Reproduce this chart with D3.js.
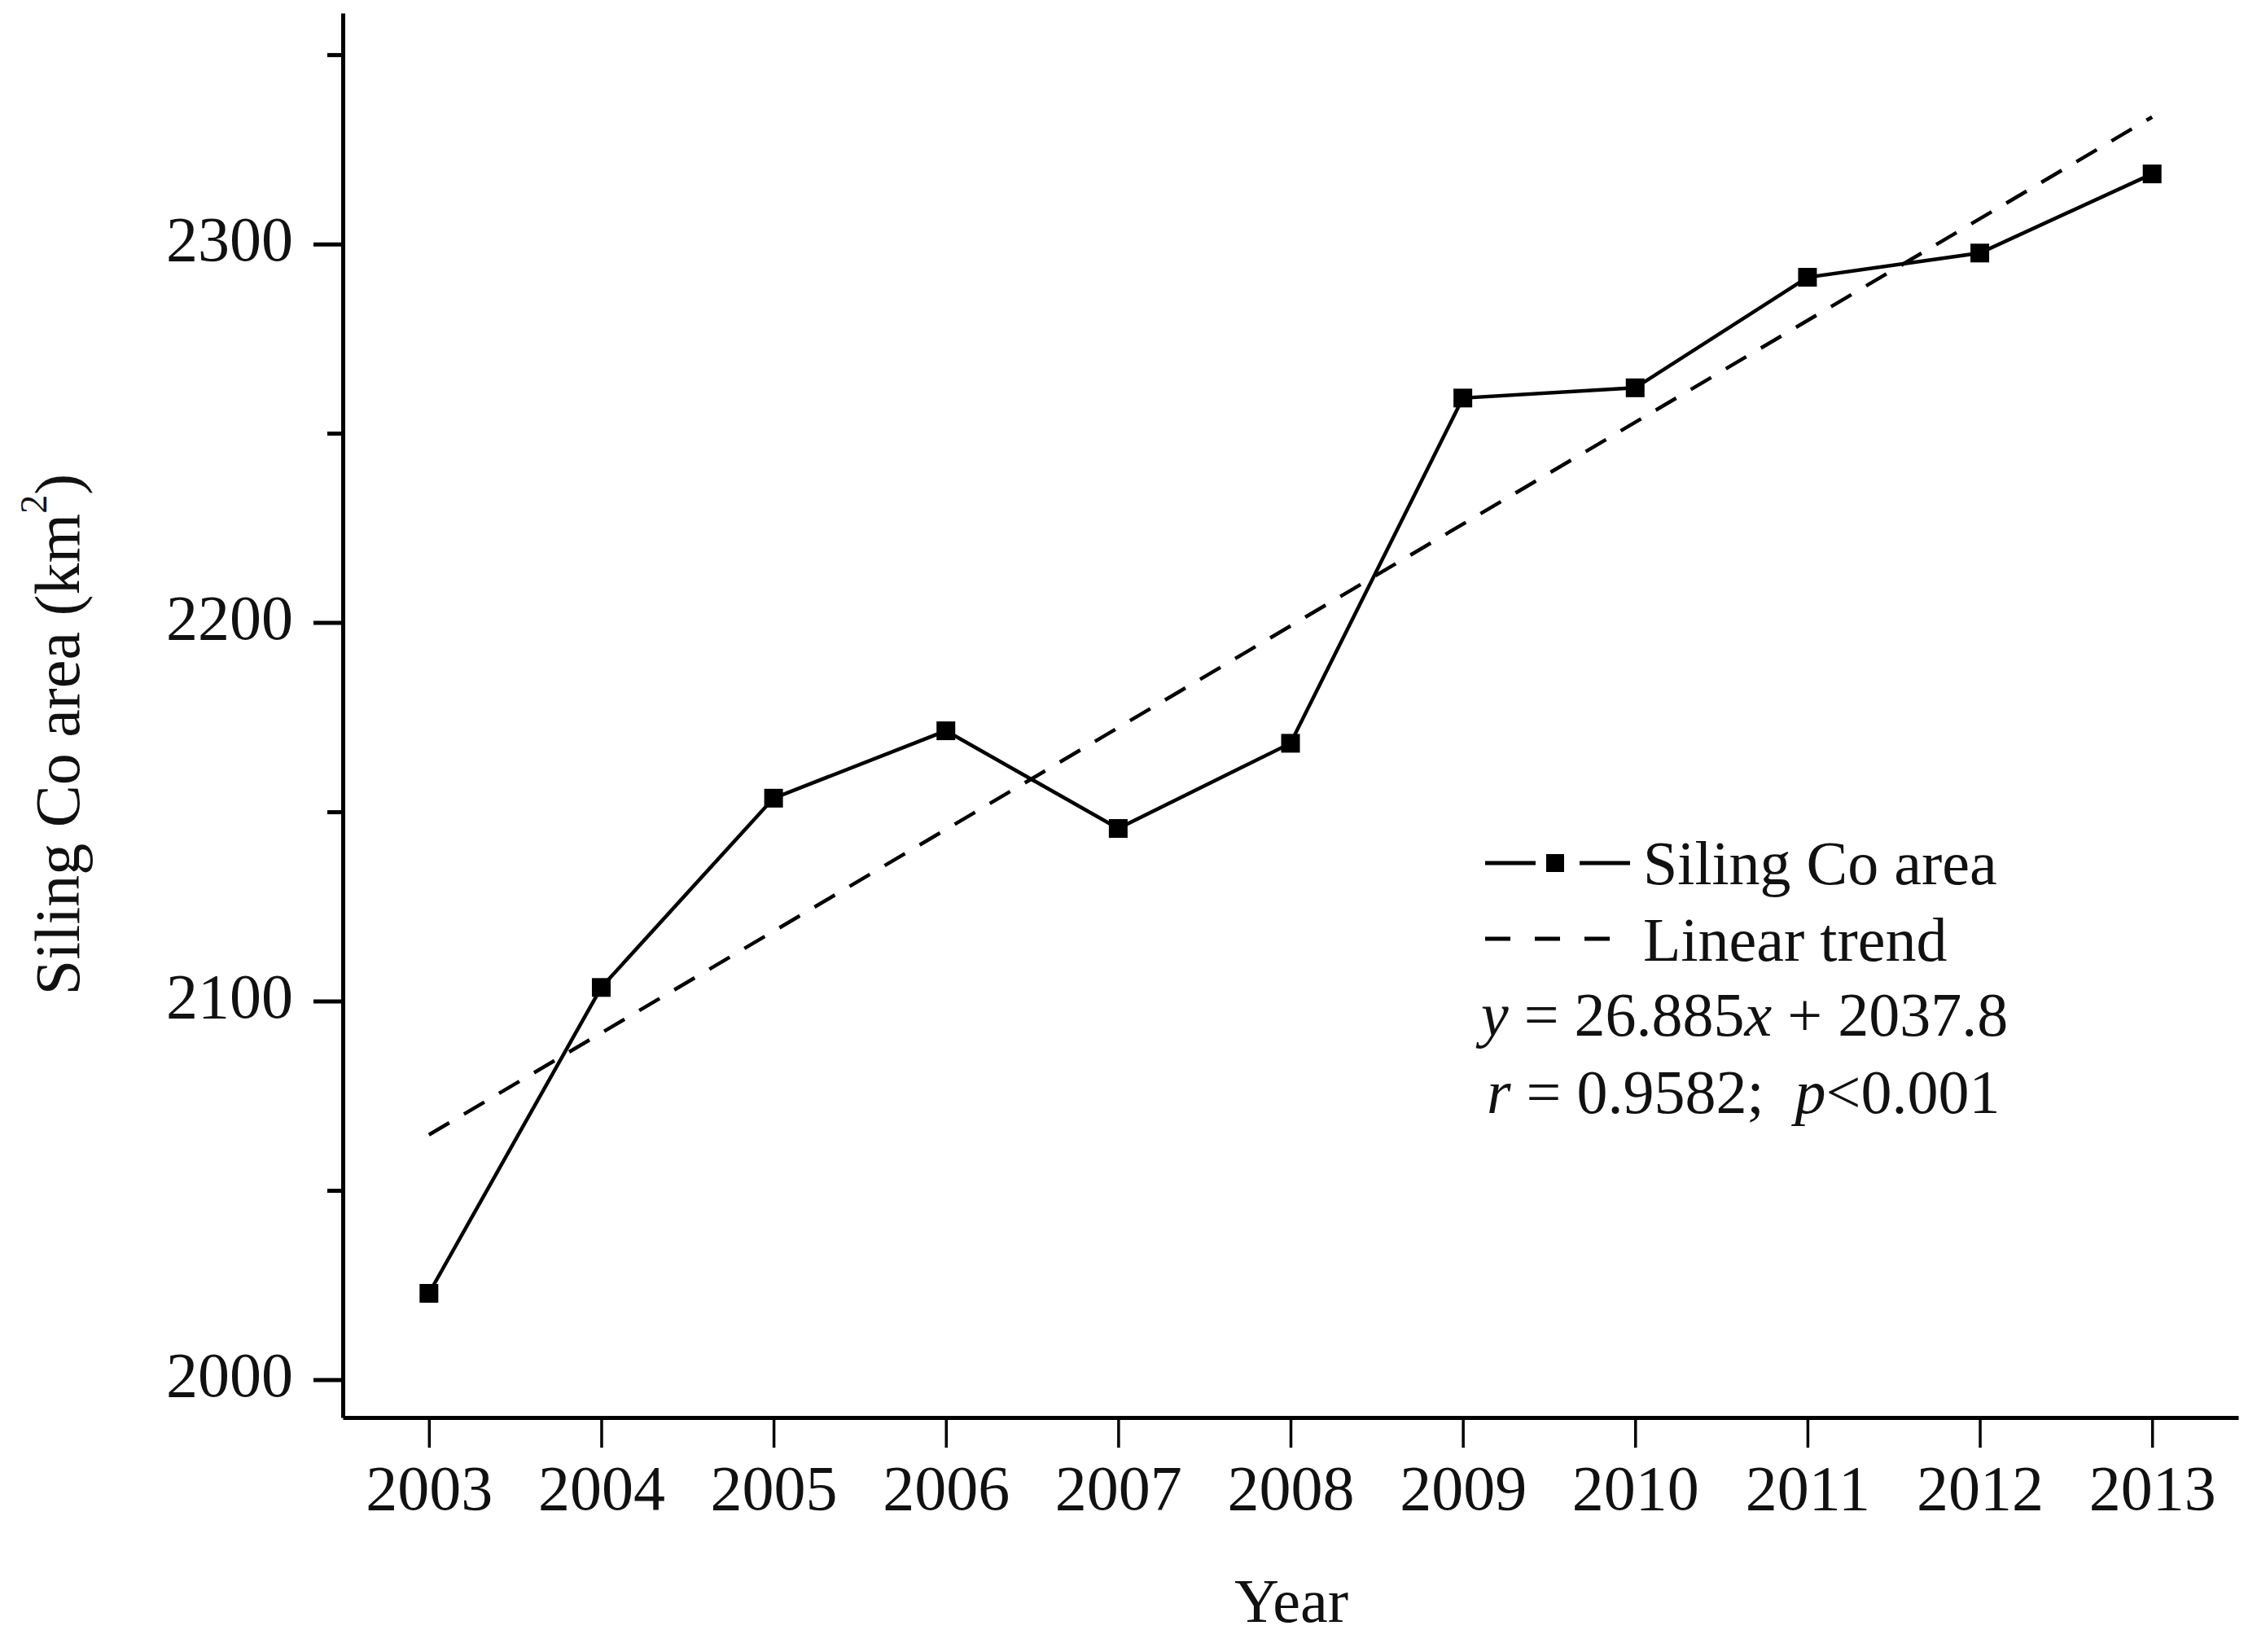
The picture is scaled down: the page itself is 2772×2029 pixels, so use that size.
<!DOCTYPE html>
<html>
<head>
<meta charset="utf-8">
<script src="https://cdn.jsdelivr.net/npm/d3@7"></script>
<style>
  html, body { margin: 0; padding: 0; background: #fff; }
  svg { display: block; }
  text { font-family: "Liberation Serif", "Times New Roman", serif; fill: #111; }
</style>
</head>
<body>
<div id="chart"></div>
<script>
// ── Data ─────────────────────────────────────────────────────────────────────
const years = [2003, 2004, 2005, 2006, 2007, 2008, 2009, 2010, 2011, 2012, 2013];
const area  = [2022.8, 2103.6, 2153.6, 2171.4, 2145.6, 2168.1, 2259.3, 2262.0, 2291.2, 2297.6, 2318.5];

// linear trend as printed on the chart: y = 26.885x + 2037.8 (x = 1 for 2003)
const trendSlope = 26.885;
const trendIntercept = 2037.8;

const yMajorTicks = [2000, 2100, 2200, 2300];
const yMinorTicks = [2050, 2150, 2250, 2350];

const legendLabels = ['Siling Co area', 'Linear trend'];

// ── Layout ────────────────────────────────────────────────────────────────────
const W = 2772, H = 2029;

const svg = d3.select('#chart').append('svg')
  .attr('width', W)
  .attr('height', H);

const x = d3.scaleLinear().domain([2002.5, 2013.5]).range([421, 2749]);
const y = d3.scaleLinear().domain([1990, 2361]).range([1741, 16]);

// ── Axes ──────────────────────────────────────────────────────────────────────
const xAxis = d3.axisBottom(x)
  .tickValues(years)
  .tickFormat(d3.format('d'))
  .tickSizeInner(37)
  .tickSizeOuter(0)
  .tickPadding(20);

const gx = svg.append('g')
  .attr('transform', `translate(0,${y.range()[0]})`)
  .call(xAxis);
gx.select('.domain').attr('stroke', '#000').attr('stroke-width', 5);
gx.selectAll('.tick line').attr('stroke', '#000').attr('stroke-width', 3.5);
gx.selectAll('.tick text')
  .attr('font-size', 78)
  .attr('font-family', '"Liberation Serif", "Times New Roman", serif')
  .attr('fill', '#111')
  .attr('dy', '0.72em');

// minor ticks on y first, so the major axis sits on top
svg.append('g')
  .attr('transform', `translate(${x.range()[0]},0)`)
  .call(d3.axisLeft(y).tickValues(yMinorTicks).tickFormat('').tickSizeInner(19).tickSizeOuter(0))
  .call(g => g.select('.domain').remove())
  .call(g => g.selectAll('.tick line').attr('stroke', '#000').attr('stroke-width', 5));

const gy = svg.append('g')
  .attr('transform', `translate(${x.range()[0]},0)`)
  .call(d3.axisLeft(y)
    .tickValues(yMajorTicks)
    .tickFormat(d3.format('d'))
    .tickSizeInner(36)
    .tickSizeOuter(0)
    .tickPadding(25));
gy.select('.domain').attr('stroke', '#000').attr('stroke-width', 5);
gy.selectAll('.tick line').attr('stroke', '#000').attr('stroke-width', 5);
gy.selectAll('.tick text')
  .attr('font-size', 78)
  .attr('font-family', '"Liberation Serif", "Times New Roman", serif')
  .attr('fill', '#111')
  .attr('dy', '0.25em');

// ── Axis titles ───────────────────────────────────────────────────────────────
svg.append('text')
  .attr('x', 1586)
  .attr('y', 1992)
  .attr('text-anchor', 'middle')
  .attr('font-size', 76)
  .text('Year');

const yl = svg.append('text')
  .attr('transform', 'translate(97,902) rotate(-90)')
  .attr('text-anchor', 'middle')
  .attr('font-size', 78);
yl.append('tspan').text('Siling Co area (km');
yl.append('tspan').attr('font-size', 46).attr('dy', -40).text('2');
yl.append('tspan').attr('dy', 40).text(')');

// ── Trend line ────────────────────────────────────────────────────────────────
const trendEnds = [years[0], years[years.length - 1]].map(yr => ({
  year: yr,
  value: trendSlope * (yr - years[0] + 1) + trendIntercept
}));

svg.append('path')
  .datum(trendEnds)
  .attr('fill', 'none')
  .attr('stroke', '#000')
  .attr('stroke-width', 4.5)
  .attr('stroke-dasharray', '29,21')
  .attr('d', d3.line().x(d => x(d.year)).y(d => y(d.value)));

// ── Data line + markers ───────────────────────────────────────────────────────
const series = years.map((yr, i) => ({ year: yr, value: area[i] }));

svg.append('path')
  .datum(series)
  .attr('fill', 'none')
  .attr('stroke', '#000')
  .attr('stroke-width', 4.5)
  .attr('d', d3.line().x(d => x(d.year)).y(d => y(d.value)));

const M = 23;
svg.append('g').selectAll('rect')
  .data(series)
  .enter().append('rect')
  .attr('x', d => x(d.year) - M / 2)
  .attr('y', d => y(d.value) - M / 2)
  .attr('width', M)
  .attr('height', M)
  .attr('fill', '#000');

// ── Legend ────────────────────────────────────────────────────────────────────
const lg = svg.append('g');

lg.append('line').attr('x1', 1824).attr('x2', 1886).attr('y1', 1060).attr('y2', 1060)
  .attr('stroke', '#000').attr('stroke-width', 5);
lg.append('line').attr('x1', 1940).attr('x2', 2002).attr('y1', 1060).attr('y2', 1060)
  .attr('stroke', '#000').attr('stroke-width', 5);
lg.append('rect').attr('x', 1899).attr('y', 1049).attr('width', 22).attr('height', 22).attr('fill', '#000');

lg.append('line').attr('x1', 1824).attr('x2', 1978).attr('y1', 1153).attr('y2', 1153)
  .attr('stroke', '#000').attr('stroke-width', 5).attr('stroke-dasharray', '31,30');

lg.append('text').attr('x', 2018).attr('y', 1086).attr('font-size', 76).text(legendLabels[0]);
lg.append('text').attr('x', 2018).attr('y', 1180).attr('font-size', 76).text(legendLabels[1]);

const eq = lg.append('text').attr('x', 1819).attr('y', 1272).attr('font-size', 76);
eq.append('tspan').attr('font-style', 'italic').text('y');
eq.append('tspan').text(` = ${trendSlope}`);
eq.append('tspan').attr('font-style', 'italic').text('x');
eq.append('tspan').text(` + ${trendIntercept}`);

const rt = lg.append('text').attr('x', 1826).attr('y', 1367).attr('font-size', 76);
rt.append('tspan').attr('font-style', 'italic').text('r');
rt.append('tspan').text(' = 0.9582;\u00a0 ');
rt.append('tspan').attr('font-style', 'italic').text('p');
rt.append('tspan').text('<0.001');
</script>
</body>
</html>
